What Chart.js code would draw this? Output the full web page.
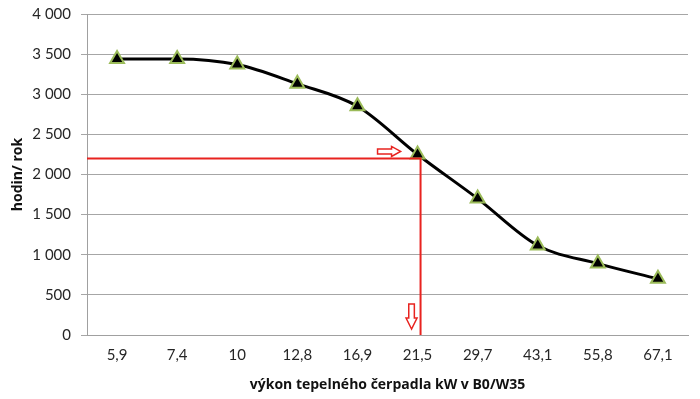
<!DOCTYPE html>
<html>
<head>
<meta charset="utf-8">
<script src="https://cdn.jsdelivr.net/npm/chart.js@4/dist/chart.umd.min.js"></script>
<style>
html,body{margin:0;padding:0;background:#fff;}
#wrap{width:700px;height:399px;position:relative;}
</style>
</head>
<body>
<div id="wrap"><canvas id="c" width="700" height="399"></canvas></div>
<script>
const categories = ["5,9","7,4","10","12,8","16,9","21,5","29,7","43,1","55,8","67,1"];
const hours = [3440, 3440, 3370, 3130, 2850, 2250, 1700, 1115, 890, 700];
const yTicks = [0, 500, 1000, 1500, 2000, 2500, 3000, 3500, 4000];
const readHours = 2200;      // red guide line value
const readCategory = 5;      // index of "21,5"

const TICKFONT = "Lato, 'Open Sans', sans-serif";
const TITLEFONT = "'Open Sans', Lato, sans-serif";

function fmt(v){ return String(v).replace(/\B(?=(\d{3})+(?!\d))/g, "\u00a0"); }

const guidePlugin = {
  id: 'guide',
  afterDatasetsDraw(chart){
    const {ctx, chartArea, scales:{x, y}} = chart;
    const gx = x.getPixelForValue(readCategory) + 3;
    const gy = y.getPixelForValue(readHours);
    ctx.save();
    ctx.strokeStyle = '#e8231f';
    ctx.lineWidth = 2;
    ctx.beginPath();
    ctx.moveTo(chartArea.left, gy);
    ctx.lineTo(gx, gy);
    ctx.lineTo(gx, chartArea.bottom);
    ctx.stroke();
    // right hollow arrow
    ctx.lineWidth = 1.5;
    ctx.fillStyle = '#fff';
    let tx = gx - 20, ty = gy - 7;
    ctx.beginPath();
    ctx.moveTo(tx, ty);
    ctx.lineTo(tx - 9, ty - 5);
    ctx.lineTo(tx - 9, ty - 2.5);
    ctx.lineTo(tx - 23, ty - 2.5);
    ctx.lineTo(tx - 23, ty + 2.5);
    ctx.lineTo(tx - 9, ty + 2.5);
    ctx.lineTo(tx - 9, ty + 5);
    ctx.closePath();
    ctx.fill(); ctx.stroke();
    // down hollow arrow
    let dx = gx - 9, dy = chartArea.bottom - 6;
    ctx.beginPath();
    ctx.moveTo(dx, dy);
    ctx.lineTo(dx - 5.5, dy - 11);
    ctx.lineTo(dx - 2.8, dy - 11);
    ctx.lineTo(dx - 2.8, dy - 25);
    ctx.lineTo(dx + 2.8, dy - 25);
    ctx.lineTo(dx + 2.8, dy - 11);
    ctx.lineTo(dx + 5.5, dy - 11);
    ctx.closePath();
    ctx.fill(); ctx.stroke();
    ctx.restore();
  }
};

new Chart(document.getElementById('c'), {
  type: 'line',
  data: {
    labels: categories,
    datasets: [{
      data: hours,
      borderColor: '#000',
      borderWidth: 3,
      cubicInterpolationMode: 'monotone',
      pointStyle: 'triangle',
      pointRadius: 8,
      pointBackgroundColor: '#000',
      pointBorderColor: '#9bbb59',
      pointBorderWidth: 2,
      fill: false
    }]
  },
  options: {
    responsive: false,
    animation: false,
    devicePixelRatio: 1,
    layout: { padding: { top: 14, right: 12, left: 0, bottom: 0 } },
    plugins: { legend: { display: false }, tooltip: { enabled: false } },
    scales: {
      x: {
        offset: true,
        afterFit(s){ s.height = 64; },
        grid: { display: false, drawTicks: false },
        border: { display: true, color: '#a0a0a0', width: 1 },
        ticks: { color: '#262626', font: { family: TICKFONT, size: 15 }, padding: 11, maxRotation: 0 },
        title: { display: true, text: 'výkon tepelného čerpadla kW v B0/W35', color: '#111',
                 font: { family: TITLEFONT, size: 14, weight: 'bold' }, padding: { top: 4, bottom: 6 } }
      },
      y: {
        min: 0, max: 4000,
        afterBuildTicks(s){ s.ticks = yTicks.map(v => ({value: v})); },
        afterFit(s){ s.width = 87; s.paddingTop = 0; s.paddingBottom = 0; },
        grid: { color: '#a6a6a6', lineWidth: 1, tickLength: 6, drawTicks: true },
        border: { display: true, color: '#a0a0a0', width: 1 },
        ticks: { color: '#262626', font: { family: TICKFONT, size: 15 }, padding: 10, callback: v => fmt(v) },
        title: { display: true, text: 'hodin/ rok', color: '#111',
                 font: { family: TITLEFONT, size: 14, weight: 'bold' }, padding: { top: 10, bottom: 4 } }
      }
    }
  },
  plugins: [guidePlugin]
});
</script>
</body>
</html>
